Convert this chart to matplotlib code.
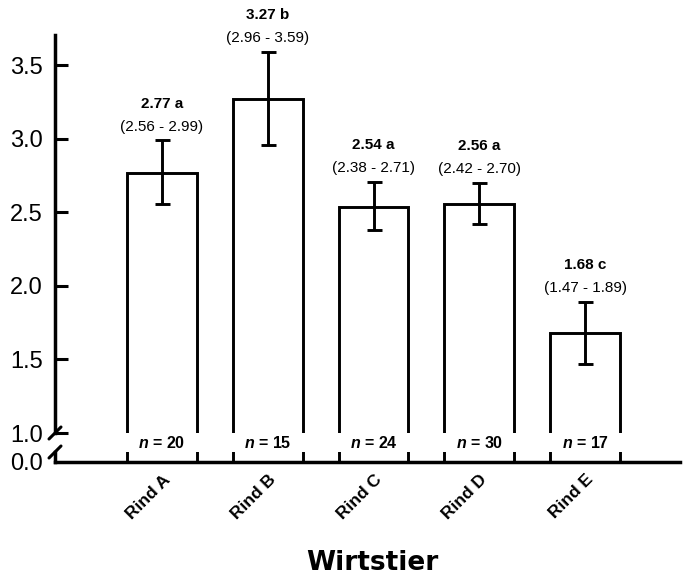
import matplotlib
import matplotlib.transforms as mtransforms
import numpy as np

matplotlib.use("Agg")
import matplotlib.pyplot as plt


groups = ["Rind A", "Rind B", "Rind C", "Rind D", "Rind E"]
means = [2.77, 3.27, 2.54, 2.56, 1.68]
ci_low = [2.56, 2.96, 2.38, 2.42, 1.47]
ci_high = [2.99, 3.59, 2.71, 2.70, 1.89]
letters = ["a", "b", "a", "a", "c"]
n_values = [20, 15, 24, 30, 17]
y_ticks = [1.0, 1.5, 2.0, 2.5, 3.0, 3.5]

plt.rcParams["font.family"] = ["Liberation Sans", "DejaVu Sans"]
plt.rcParams["mathtext.fontset"] = "custom"
plt.rcParams["mathtext.it"] = "Liberation Sans:italic:bold"
plt.rcParams["mathtext.rm"] = "Liberation Sans:bold"

W, H = 686, 576
LW = 2.1
x = np.arange(len(groups))
bar_width = 0.66
x_left, x_right = -1.012, 4.898

figure = plt.figure(figsize=(W / 100, H / 100), dpi=100)
upper = figure.add_axes([55 / W, 1 - 433 / H, 625 / W, 398 / H])
lower = figure.add_axes([55 / W, 1 - 462 / H, 625 / W, 10 / H])

for axis in (upper, lower):
    axis.bar(x, means, width=bar_width, facecolor="white", edgecolor="black", linewidth=LW, zorder=2)
    axis.set_xlim(x_left, x_right)
    for side in ("top", "right"):
        axis.spines[side].set_visible(False)
    axis.spines["left"].set_linewidth(2.5)
    axis.spines["bottom"].set_linewidth(2.5)
    axis.patch.set_visible(False)

yerr = [np.subtract(means, ci_low), np.subtract(ci_high, means)]
upper.errorbar(x, means, yerr=yerr, fmt="none", ecolor="black", elinewidth=LW,
               capsize=5.4, capthick=LW, zorder=3)

upper.set_ylim(1.0, 3.707)
upper.spines["bottom"].set_visible(False)
upper.set_xticks([])
upper.set_yticks(y_ticks)
upper.set_yticklabels([f"{v:.1f}" for v in y_ticks])
upper.tick_params(axis="y", direction="in", length=9, width=2.2, pad=9, labelsize=17)

lower.set_ylim(0.0, 0.068)
lower.set_yticks([0.0])
lower.set_yticklabels(["0.0"])
lower.tick_params(axis="y", length=0, pad=9, labelsize=17)
lower.set_xticks(x)
lower.set_xticklabels(groups, rotation=45, ha="right", va="center", rotation_mode="anchor",
                      fontweight="bold", fontsize=12.5)
lower.tick_params(axis="x", length=0, pad=11)
shift = mtransforms.ScaledTranslation(4 / 72, 0, figure.dpi_scale_trans)
for label in lower.get_xticklabels():
    label.set_transform(label.get_transform() + shift)

for xi, mean, lo, hi, letter, n in zip(x, means, ci_low, ci_high, letters, n_values):
    upper.annotate(f"({lo:.2f} - {hi:.2f})", (xi, hi), xytext=(0, 10), textcoords="offset points",
                   ha="center", va="center", fontsize=11, annotation_clip=False)
    upper.annotate(f"{mean:.2f} {letter}", (xi, hi), xytext=(0, 26.5), textcoords="offset points",
                   ha="center", va="center", fontsize=11, fontweight="bold", annotation_clip=False)
    upper.annotate(f"$n$ = {n}", (xi, 1.0), xytext=(0, -7.5), textcoords="offset points",
                   ha="center", va="center", fontsize=11.5, fontweight="bold", annotation_clip=False)

# axis break marks
for axis, height_px, y_end in ((upper, 398, 0.0), (lower, 10, 1.0)):
    dx, dy = 6 / 625, 6 / height_px
    axis.plot([-dx, dx], [y_end - dy, y_end + dy], transform=axis.transAxes, color="black",
              linewidth=2.2, clip_on=False, solid_capstyle="round")

figure.text(372 / W, 1 - 563 / H, "Wirtstier", ha="center", va="center", fontsize=19,
            fontweight="bold", family="DejaVu Sans")

figure.savefig("out.png", dpi=100)
plt.close(figure)
